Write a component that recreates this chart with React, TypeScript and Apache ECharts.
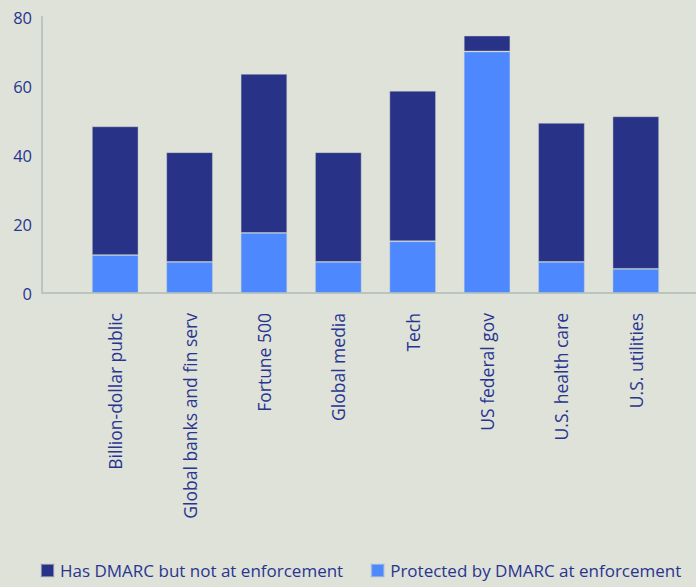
import React, { useEffect, useRef } from "react";
import * as echarts from "echarts";

const categories = [
  "Billion-dollar public",
  "Global banks and fin serv",
  "Fortune 500",
  "Global media",
  "Tech",
  "US federal gov",
  "U.S. health care",
  "U.S. utilities",
];
const protectedValues = [11, 9, 17.4, 9, 15, 70, 9, 7];
const notEnforcedValues = [37.3, 31.8, 46.1, 31.8, 43.6, 4.6, 40.3, 44.2];
const seriesNames = ["Has DMARC but not at enforcement", "Protected by DMARC at enforcement"];
const yMin = 0;
const yMax = 80;
const yInterval = 20;

const TEXT = "#283590";
const DARK = "#283287";
const LIGHT = "#4d88ff";
const AXIS = "#bac5bb";
const BG = "#dfe2d8";
const FONT = "'Open Sans', 'Noto Sans', sans-serif";

export default function App() {
  const ref = useRef<HTMLDivElement>(null);
  useEffect(() => {
    if (!ref.current) return;
    const chart = echarts.init(ref.current, undefined, { renderer: "svg" });
    chart.setOption({
      animation: false,
      backgroundColor: BG,
      textStyle: { fontFamily: FONT },
      grid: [
        { left: 42, right: 0, top: 17, height: 276 },
        { left: 78, right: 23, top: 17, height: 276 },
      ],
      xAxis: [
        {
          gridIndex: 0,
          type: "value",
          min: 0,
          max: 1,
          axisLine: { show: true, lineStyle: { color: AXIS, width: 2 } },
          axisTick: { show: false },
          axisLabel: { show: false },
          splitLine: { show: false },
        },
        {
          gridIndex: 1,
          type: "category",
          data: categories,
          axisLine: { show: false },
          axisTick: { show: false },
          axisLabel: {
            rotate: 90,
            margin: 20,
            color: TEXT,
            fontSize: 17.5,
            fontFamily: FONT,
            interval: 0,
          },
        },
      ],
      yAxis: [
        {
          gridIndex: 0,
          type: "value",
          min: yMin,
          max: yMax,
          interval: yInterval,
          axisLine: { show: true, lineStyle: { color: AXIS, width: 2 } },
          axisTick: { show: false },
          splitLine: { show: false },
          axisLabel: { color: TEXT, fontSize: 16.5, margin: 10, fontFamily: FONT },
        },
        {
          gridIndex: 1,
          type: "value",
          min: yMin,
          max: yMax,
          interval: yInterval,
          show: false,
          splitLine: { show: false },
        },
      ],
      legend: {
        left: 40,
        top: 562,
        padding: 0,
        itemWidth: 13,
        itemHeight: 13,
        itemGap: 27,
        icon: "rect",
        data: seriesNames,
        textStyle: { color: TEXT, fontSize: 17, fontFamily: FONT, padding: [0, 0, 0, 1] },
      },
      series: [
        {
          name: seriesNames[1],
          type: "bar",
          stack: "total",
          xAxisIndex: 1,
          yAxisIndex: 1,
          barWidth: 46.5,
          data: protectedValues,
          itemStyle: { color: LIGHT, borderColor: "rgba(200,208,204,0.55)", borderWidth: 0.8 },
        },
        {
          name: seriesNames[0],
          type: "bar",
          stack: "total",
          xAxisIndex: 1,
          yAxisIndex: 1,
          barWidth: 46.5,
          data: notEnforcedValues,
          itemStyle: { color: DARK, borderColor: "rgba(200,208,204,0.55)", borderWidth: 0.8 },
        },
      ],
    });
    return () => chart.dispose();
  }, []);
  return (
    <div
      ref={ref}
      style={{ position: "fixed", left: 0, top: 0, width: 696, height: 587 }}
    />
  );
}
